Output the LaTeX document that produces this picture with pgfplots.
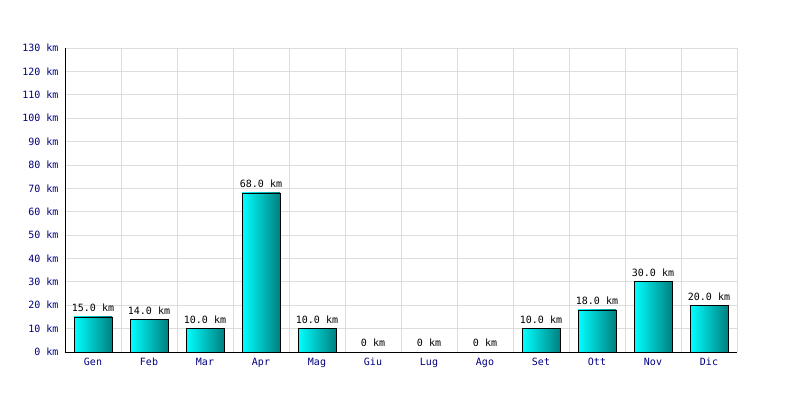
\documentclass[border=0pt]{standalone}
\usepackage{fontspec}
\setmainfont{DejaVu Sans Mono}
\usepackage{pgfplots}
\pgfplotsset{compat=1.18}
\definecolor{tickblue}{HTML}{000080}
\definecolor{gridgray}{HTML}{DDDDDD}
\definecolor{barleft}{HTML}{00FFFF}
\definecolor{barright}{HTML}{008080}
\pgfplotsset{mybar/.style={ybar, bar width=38pt, bar shift=0pt, draw=black, line width=0.8pt, left color=barleft, right color=barright}}
\begin{document}
\begin{tikzpicture}[x=1pt,y=1pt]
\path[use as bounding box] (0,0) rectangle (800,400);
\begin{axis}[
  at={(65pt,48pt)}, anchor=south west,
  scale only axis, width=672pt, height=304pt,
  xmin=-0.5, xmax=11.5, ymin=0, ymax=130,
  xtick={0,...,11},
  xticklabels={Gen,Feb,Mar,Apr,Mag,Giu,Lug,Ago,Set,Ott,Nov,Dic},
  minor xtick={-0.5,0.5,...,11.5},
  ytick={0,10,...,130},
  yticklabels={0 km,10 km,20 km,30 km,40 km,50 km,60 km,70 km,80 km,90 km,100 km,110 km,120 km,130 km},
  xmajorgrids=false, xminorgrids=true, ymajorgrids=true,
  grid style={gridgray, line width=0.8pt},
  minor grid style={gridgray, line width=0.8pt},
  major tick length=0pt, minor tick length=0pt,
  axis x line*=bottom, axis y line*=left,
  axis line style={-, black, line width=0.9pt},
  ticklabel style={font=\fontsize{10}{12}\selectfont, text=tickblue},
  yticklabel style={xshift=-3pt},
  xticklabel style={yshift=-2.5pt},
  nodes near coords,
  point meta=explicit symbolic,
  every node near coord/.append style={font=\fontsize{10}{12}\selectfont, text=black, inner sep=4.5pt},
  clip=false,
]
\addplot[mybar] coordinates {(0,15) [15.0 km]};
\addplot[mybar] coordinates {(1,14) [14.0 km]};
\addplot[mybar] coordinates {(2,10) [10.0 km]};
\addplot[mybar] coordinates {(3,68) [68.0 km]};
\addplot[mybar] coordinates {(4,10) [10.0 km]};
\addplot[mybar] coordinates {(5,0) [0 km]};
\addplot[mybar] coordinates {(6,0) [0 km]};
\addplot[mybar] coordinates {(7,0) [0 km]};
\addplot[mybar] coordinates {(8,10) [10.0 km]};
\addplot[mybar] coordinates {(9,18) [18.0 km]};
\addplot[mybar] coordinates {(10,30) [30.0 km]};
\addplot[mybar] coordinates {(11,20) [20.0 km]};
\end{axis}
\end{tikzpicture}
\end{document}
